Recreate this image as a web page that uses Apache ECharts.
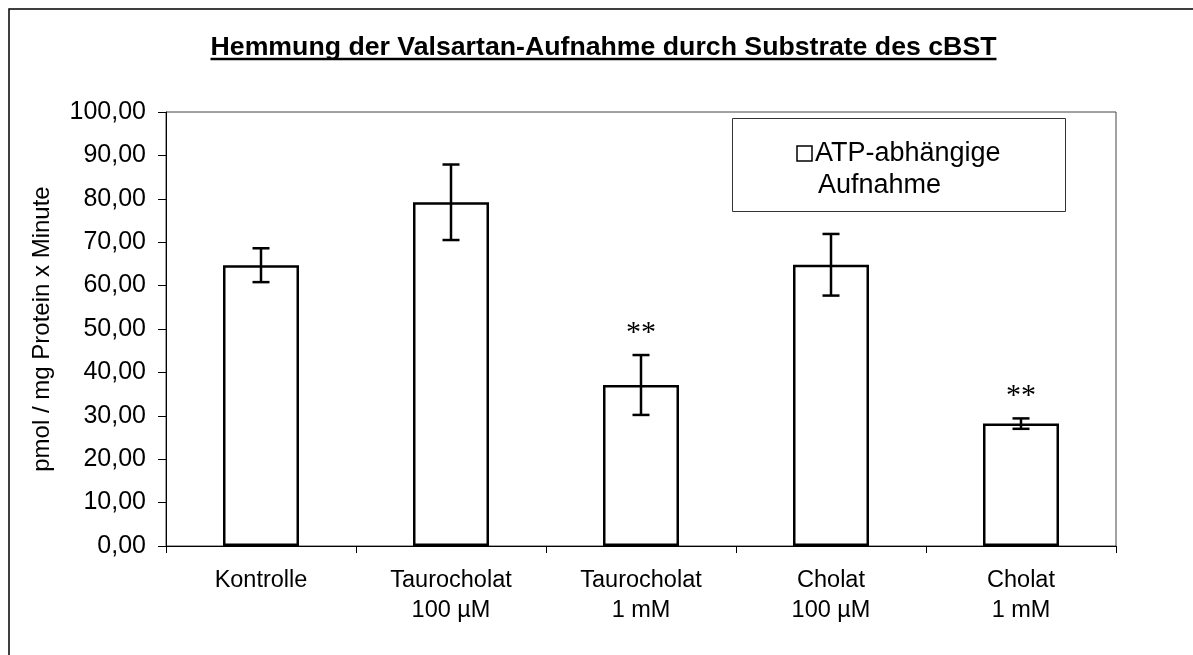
<!DOCTYPE html>
<html>
<head>
<meta charset="utf-8">
<style>
  html, body { margin: 0; padding: 0; background: #fff; }
  #chart { width: 1193px; height: 655px; }
</style>
<script src="https://cdn.jsdelivr.net/npm/echarts@6/dist/echarts.min.js"></script>
</head>
<body>
<div id="chart"></div>
<script>
// Valsartan uptake (ATP-dependent) under cBST substrate inhibition
const titleText = 'Hemmung der Valsartan-Aufnahme durch Substrate des cBST';
const seriesName = 'ATP-abhängige\nAufnahme';
const yAxisName = 'pmol / mg Protein x Minute';
const categories = ['Kontrolle', 'Taurocholat\n100 µM', 'Taurocholat\n1 mM', 'Cholat\n100 µM', 'Cholat\n1 mM'];
const means = [64.7, 79.2, 37.1, 64.8, 28.2];
const errors = [3.9, 8.7, 6.9, 7.1, 1.2];
const significance = ['', '', '**', '', '**'];

const FONT = '"Liberation Sans", Arial, sans-serif';

const chart = echarts.init(document.getElementById('chart'), null, { renderer: 'canvas' });

// measure the title so the underline spans it exactly
const titleFont = 'bold 26.7px "Liberation Sans", Arial, sans-serif';
const ctx = document.createElement('canvas').getContext('2d');
ctx.font = titleFont;
const titleWidth = ctx.measureText(titleText).width;
const titleCenter = 603.5;

const errData = means.map((m, i) => [i, m - errors[i], m + errors[i]]);

const option = {
  animation: false,
  backgroundColor: '#fff',
  grid: {
    left: 166, top: 112, width: 950, height: 434,
    show: true, borderColor: '#444', borderWidth: 1, backgroundColor: 'transparent'
  },
  xAxis: {
    type: 'category',
    data: categories,
    axisLine: { lineStyle: { color: '#000', width: 1 } },
    axisTick: { show: true, length: 7, lineStyle: { color: '#000' } },
    axisLabel: {
      color: '#000', fontFamily: FONT, fontSize: 23.5, lineHeight: 30, margin: 20
    },
    splitLine: { show: false }
  },
  yAxis: {
    type: 'value',
    min: 0, max: 100, interval: 10,
    name: yAxisName,
    nameLocation: 'middle',
    nameGap: 112,
    nameTextStyle: { color: '#000', fontFamily: FONT, fontSize: 24 },
    axisLine: { show: true, lineStyle: { color: '#000', width: 1 } },
    axisTick: { show: true, length: 8, lineStyle: { color: '#000' } },
    axisLabel: {
      color: '#000', fontFamily: FONT, fontSize: 25, margin: 20,
      formatter: v => v.toFixed(2).replace('.', ',')
    },
    splitLine: { show: false }
  },
  series: [
    {
      name: seriesName,
      type: 'bar',
      data: means,
      barWidth: '40%',
      itemStyle: { color: '#fff', borderColor: '#000', borderWidth: 2.5 },
      z: 2
    },
    {
      type: 'custom',
      data: errData,
      encode: { x: 0, y: [1, 2] },
      z: 3,
      renderItem: function (params, api) {
        const i = api.value(0);
        const lo = api.coord([i, api.value(1)]);
        const hi = api.coord([i, api.value(2)]);
        const cap = 8.5;
        const style = { stroke: '#000', lineWidth: 2.5, fill: null };
        const children = [
          { type: 'line', shape: { x1: hi[0], y1: hi[1], x2: lo[0], y2: lo[1] }, style },
          { type: 'line', shape: { x1: hi[0] - cap, y1: hi[1], x2: hi[0] + cap, y2: hi[1] }, style },
          { type: 'line', shape: { x1: lo[0] - cap, y1: lo[1], x2: lo[0] + cap, y2: lo[1] }, style }
        ];
        const sig = significance[params.dataIndex];
        if (sig) {
          children.push({
            type: 'text',
            style: {
              text: sig, x: hi[0], y: hi[1] - 22,
              align: 'center', verticalAlign: 'middle',
              font: '30px "Liberation Serif", "Times New Roman", serif', fill: '#000'
            }
          });
        }
        return { type: 'group', children };
      }
    }
  ],
  graphic: [
    // outer chart frame
    {
      type: 'rect', silent: true,
      shape: { x: 9, y: 9, width: 1200, height: 700 },
      style: { fill: null, stroke: '#000', lineWidth: 1.5 }
    },
    // title and its underline
    {
      type: 'text', silent: true,
      style: {
        text: titleText, x: titleCenter, y: 47.5,
        align: 'center', verticalAlign: 'middle',
        font: titleFont, fill: '#000'
      }
    },
    {
      type: 'line', silent: true,
      shape: { x1: titleCenter - titleWidth / 2, y1: 59, x2: titleCenter + titleWidth / 2, y2: 59 },
      style: { stroke: '#000', lineWidth: 2.5 }
    },
    // legend box
    {
      type: 'rect', silent: true,
      shape: { x: 732.5, y: 118.5, width: 333, height: 93 },
      style: { fill: '#fff', stroke: '#333', lineWidth: 1 }
    },
    {
      type: 'rect', silent: true,
      shape: { x: 797, y: 146, width: 15, height: 15 },
      style: { fill: '#fff', stroke: '#000', lineWidth: 1.5 }
    },
    {
      type: 'text', silent: true,
      style: {
        text: seriesName.split('\n')[0], x: 815, y: 154,
        align: 'left', verticalAlign: 'middle',
        font: '27px "Liberation Sans", Arial, sans-serif', fill: '#000'
      }
    },
    {
      type: 'text', silent: true,
      style: {
        text: seriesName.split('\n')[1], x: 818, y: 186,
        align: 'left', verticalAlign: 'middle',
        font: '27px "Liberation Sans", Arial, sans-serif', fill: '#000'
      }
    }
  ]
};

chart.setOption(option);
</script>
</body>
</html>
